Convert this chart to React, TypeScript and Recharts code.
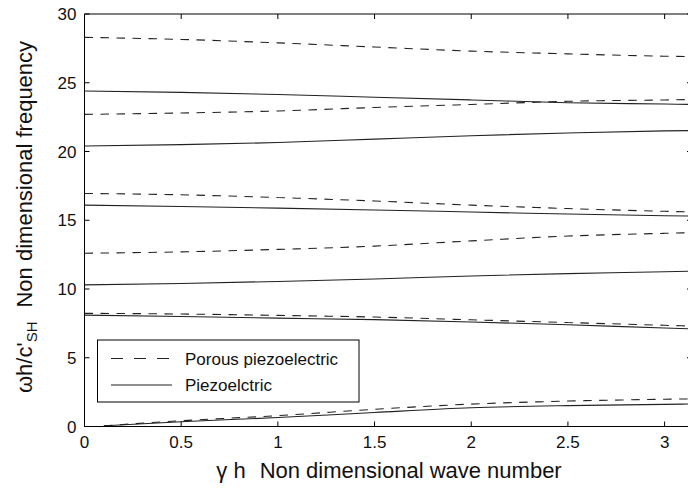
import React from 'react';
import { LineChart, Line, XAxis, YAxis } from 'recharts';

// x grids (non dimensional wave number γh)
const xGrid = [0, 0.5, 1, 1.5, 2, 2.5, 3, 3.1416];
const xLow = [0.1, 0.5, 1, 1.5, 2, 2.5, 3, 3.1416];

// Porous piezoelectric (dashed), modes from bottom to top
const porous1 = [0.05, 0.42, 0.79, 1.25, 1.63, 1.85, 1.98, 2.01];
const porous2 = [8.23, 8.18, 8.08, 7.96, 7.76, 7.56, 7.36, 7.3];
const porous3 = [12.6, 12.7, 12.88, 13.12, 13.5, 13.85, 14.05, 14.1];
const porous4 = [16.95, 16.85, 16.65, 16.4, 16.1, 15.85, 15.65, 15.6];
const porous5 = [22.7, 22.8, 22.95, 23.2, 23.42, 23.65, 23.75, 23.78];
const porous6 = [28.3, 28.15, 27.9, 27.6, 27.3, 27.1, 26.93, 26.9];

// Piezoelectric (solid)
const piezo1 = [0.05, 0.35, 0.65, 1.02, 1.36, 1.52, 1.61, 1.64];
const piezo2 = [8.1, 8.0, 7.88, 7.77, 7.6, 7.4, 7.16, 7.1];
const piezo3 = [10.3, 10.4, 10.55, 10.73, 10.95, 11.12, 11.25, 11.3];
const piezo4 = [16.1, 16.0, 15.88, 15.75, 15.6, 15.45, 15.33, 15.3];
const piezo5 = [20.4, 20.5, 20.65, 20.9, 21.15, 21.35, 21.5, 21.52];
const piezo6 = [24.4, 24.3, 24.15, 23.95, 23.75, 23.55, 23.45, 23.42];

const xTicks = [0, 0.5, 1, 1.5, 2, 2.5, 3];
const yTicks = [0, 5, 10, 15, 20, 25, 30];

const legendPorous = 'Porous piezoelectric';
const legendPiezo = 'Piezoelctric';

const toPts = (xs: number[], ys: number[]) => xs.map((x, i) => ({ x, y: ys[i] }));

const series = [
  { id: 'p1', xs: xLow, ys: porous1, dashed: true },
  { id: 'p2', xs: xGrid, ys: porous2, dashed: true },
  { id: 'p3', xs: xGrid, ys: porous3, dashed: true },
  { id: 'p4', xs: xGrid, ys: porous4, dashed: true },
  { id: 'p5', xs: xGrid, ys: porous5, dashed: true },
  { id: 'p6', xs: xGrid, ys: porous6, dashed: true },
  { id: 's1', xs: xLow, ys: piezo1, dashed: false },
  { id: 's2', xs: xGrid, ys: piezo2, dashed: false },
  { id: 's3', xs: xGrid, ys: piezo3, dashed: false },
  { id: 's4', xs: xGrid, ys: piezo4, dashed: false },
  { id: 's5', xs: xGrid, ys: piezo5, dashed: false },
  { id: 's6', xs: xGrid, ys: piezo6, dashed: false },
];

const FONT = '"Liberation Sans", Arial, Helvetica, sans-serif';
const M = 2; // tick margin passed to recharts
const TL = 5; // inward tick length

const BottomTick = (p: any) => {
  const ay = p.y - M;
  return (
    <g>
      <line x1={p.x} x2={p.x} y1={ay} y2={ay - TL} stroke="#000" strokeWidth={1} />
      <text x={p.x} y={ay + 21.5} textAnchor="middle" fontSize={17} fontFamily={FONT} fill="#111">
        {p.payload.value}
      </text>
    </g>
  );
};
const TopTick = (p: any) => {
  const ay = p.y + M;
  return <line x1={p.x} x2={p.x} y1={ay} y2={ay + TL} stroke="#000" strokeWidth={1} />;
};
const LeftTick = (p: any) => {
  const ax = p.x + M;
  return (
    <g>
      <line x1={ax} x2={ax + TL} y1={p.y} y2={p.y} stroke="#000" strokeWidth={1} />
      <text x={ax - 8} y={p.y + 6} textAnchor="end" fontSize={17} fontFamily={FONT} fill="#111">
        {p.payload.value}
      </text>
    </g>
  );
};
const RightTick = (p: any) => {
  const ax = p.x - M;
  return <line x1={ax} x2={ax - TL} y1={p.y} y2={p.y} stroke="#000" strokeWidth={1} />;
};

const axisLine = { stroke: '#000', strokeWidth: 1 };

export default function App() {
  return (
    <div
      style={{
        position: 'fixed',
        left: 0,
        top: 0,
        width: 688,
        height: 488,
        overflow: 'hidden',
        background: '#fff',
      }}
    >
      <LineChart
        width={710}
        height={488}
        margin={{ top: 13, right: 17, bottom: 60.5, left: 83.5 }}
      >
        <XAxis
          xAxisId="b"
          dataKey="x"
          type="number"
          domain={[0, Math.PI]}
          allowDataOverflow
          ticks={xTicks}
          interval={0}
          height={1}
          tickSize={0}
          tickMargin={M}
          axisLine={axisLine}
          tickLine={false}
          tick={BottomTick}
        />
        <XAxis
          xAxisId="t"
          orientation="top"
          dataKey="x"
          type="number"
          domain={[0, Math.PI]}
          allowDataOverflow
          ticks={xTicks}
          interval={0}
          height={1}
          tickSize={0}
          tickMargin={M}
          axisLine={axisLine}
          tickLine={false}
          tick={TopTick}
        />
        <YAxis
          yAxisId="l"
          type="number"
          domain={[0, 30]}
          allowDataOverflow
          ticks={yTicks}
          interval={0}
          width={1}
          tickSize={0}
          tickMargin={M}
          axisLine={axisLine}
          tickLine={false}
          tick={LeftTick}
        />
        <YAxis
          yAxisId="r"
          orientation="right"
          type="number"
          domain={[0, 30]}
          allowDataOverflow
          ticks={yTicks}
          interval={0}
          width={1}
          tickSize={0}
          tickMargin={M}
          axisLine={axisLine}
          tickLine={false}
          tick={RightTick}
        />
        {series.map((s) => (
          <Line
            key={s.id}
            xAxisId="b"
            yAxisId="l"
            data={toPts(s.xs, s.ys)}
            dataKey="y"
            type="monotone"
            stroke="#222"
            strokeWidth={1.1}
            strokeDasharray={s.dashed ? '8.5 7.5' : undefined}
            dot={false}
            activeDot={false}
            isAnimationActive={false}
          />
        ))}
      </LineChart>
      <svg
        width={688}
        height={488}
        style={{ position: 'absolute', left: 0, top: 0, pointerEvents: 'none' }}
      >
        <text
          transform="translate(32, 217) rotate(-90)"
          textAnchor="middle"
          fontSize={22}
          fontFamily={FONT}
          fill="#111"
        >
          ωh/c'
          <tspan dy={5} fontSize={15}>SH</tspan>
          <tspan dy={-5} dx={14}>Non dimensional frequency</tspan>
        </text>
        <text x={389} y={478} textAnchor="middle" fontSize={22} fontFamily={FONT} fill="#111">
          γ h
          <tspan dx={14}>Non dimensional wave number</tspan>
        </text>
        <rect x={97.5} y={340} width={261.5} height={62} fill="#fff" stroke="#000" strokeWidth={1} />
        <line x1={111} y1={358.5} x2={172} y2={358.5} stroke="#222" strokeWidth={1.1} strokeDasharray="12 11" />
        <text x={185} y={364.5} fontSize={17} fontFamily={FONT} fill="#111">{legendPorous}</text>
        <line x1={111} y1={385} x2={172} y2={385} stroke="#222" strokeWidth={1.1} />
        <text x={185} y={391} fontSize={17} fontFamily={FONT} fill="#111">{legendPiezo}</text>
      </svg>
    </div>
  );
}
